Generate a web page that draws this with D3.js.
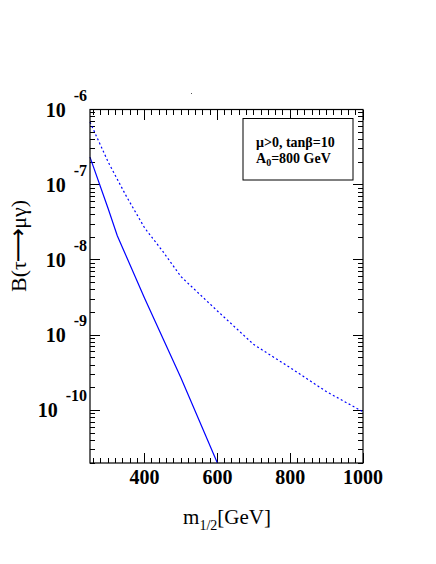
<!DOCTYPE html>
<html>
<head>
<meta charset="utf-8">
<script src="https://cdn.jsdelivr.net/npm/d3@7"></script>
<style>
  body { margin: 0; background: #fff; }
  svg { display: block; }
</style>
</head>
<body>
<svg></svg>
<script>
// chart values
var massSolid = [250, 300, 325, 400, 500, 600];
var brSolid = [2.33e-7, 4.8e-8, 2.1e-8, 3.1e-9, 2.7e-10, 2.0e-11];

var massDashed = [250, 300, 350, 400, 450, 500, 600, 700, 800, 900, 1000];
var brDashed = [6.8e-7, 2.0e-7, 7.0e-8, 2.67e-8, 1.3e-8, 6.0e-9, 2.1e-9, 7.5e-10, 3.7e-10, 1.77e-10, 9.6e-11];

var xTicks = [400, 600, 800, 1000];
var yExponents = [-6, -7, -8, -9, -10];
var legendLines = ["μ>0, tanβ=10", "A0=800 GeV"];

var svgWidth = 436, svgHeight = 564;
var plotLeft = 90, plotRight = 363, plotTop = 109.5, plotBottom = 463;

var svg = d3.select("svg")
    .attr("width", svgWidth)
    .attr("height", svgHeight);

var x = d3.scaleLinear().domain([250, 1000]).range([plotLeft, plotRight]);
var y = d3.scaleLog().domain([2e-11, 1e-6]).range([plotBottom, plotTop]);

var font = "'Liberation Serif', 'Times New Roman', serif";

// ticks on all four sides (pointing inward)
var minorX = d3.range(260, 1000, 20).filter(function(v){ return v % 200 != 0; });
var minorY = [];
for (var e = -11; e < -6; e++) {
    for (var k = 2; k <= 9; k++) {
        var v = k * Math.pow(10, e);
        if (v >= 2e-11 && v <= 1e-6) minorY.push(v);
    }
}

var ticks = svg.append("g").attr("stroke", "#000").attr("stroke-width", 1).attr("shape-rendering", "crispEdges");

minorX.forEach(function(v){
    ticks.append("line").attr("x1", x(v)).attr("x2", x(v)).attr("y1", plotBottom).attr("y2", plotBottom - 5);
    ticks.append("line").attr("x1", x(v)).attr("x2", x(v)).attr("y1", plotTop).attr("y2", plotTop + 5);
});
xTicks.forEach(function(v){
    ticks.append("line").attr("x1", x(v)).attr("x2", x(v)).attr("y1", plotBottom).attr("y2", plotBottom - 10);
    ticks.append("line").attr("x1", x(v)).attr("x2", x(v)).attr("y1", plotTop).attr("y2", plotTop + 10);
});
minorY.forEach(function(v){
    ticks.append("line").attr("x1", plotLeft).attr("x2", plotLeft + 5).attr("y1", y(v)).attr("y2", y(v));
    ticks.append("line").attr("x1", plotRight).attr("x2", plotRight - 5).attr("y1", y(v)).attr("y2", y(v));
});
yExponents.forEach(function(p){
    var v = Math.pow(10, p);
    ticks.append("line").attr("x1", plotLeft).attr("x2", plotLeft + 10).attr("y1", y(v)).attr("y2", y(v));
    ticks.append("line").attr("x1", plotRight).attr("x2", plotRight - 10).attr("y1", y(v)).attr("y2", y(v));
});

// curves
var line = d3.line()
    .x(function(d){ return x(d[0]); })
    .y(function(d){ return y(d[1]); });

svg.append("path")
    .datum(massSolid.map(function(m, i){ return [m, brSolid[i]]; }))
    .attr("d", line)
    .attr("fill", "none")
    .attr("stroke", "#0000ff")
    .attr("stroke-width", 1.2);

svg.append("path")
    .datum(massDashed.map(function(m, i){ return [m, brDashed[i]]; }))
    .attr("d", line)
    .attr("fill", "none")
    .attr("stroke", "#0000ff")
    .attr("stroke-width", 1.2)
    .attr("stroke-dasharray", "2,2.5");

// frame
svg.append("rect")
    .attr("x", plotLeft).attr("y", plotTop)
    .attr("width", plotRight - plotLeft).attr("height", plotBottom - plotTop)
    .attr("fill", "none").attr("stroke", "#000").attr("stroke-width", 1.2);

// x tick labels
svg.selectAll(".xl")
    .data(xTicks)
    .enter()
    .append("text")
    .attr("x", function(d){ return x(d); })
    .attr("y", 484)
    .attr("text-anchor", "middle")
    .attr("font-family", font)
    .attr("font-weight", "bold")
    .attr("font-size", 20)
    .text(function(d){ return d; });

// y tick labels, 10 with exponent
var yl = svg.selectAll(".yl")
    .data(yExponents)
    .enter()
    .append("text")
    .attr("x", 87)
    .attr("y", function(d){ return y(Math.pow(10, d)) + 7; })
    .attr("text-anchor", "end")
    .attr("font-family", font)
    .attr("font-weight", "bold")
    .attr("font-size", 20);
yl.append("tspan").text("10");
yl.append("tspan")
    .attr("dx", 8)
    .attr("dy", -16)
    .attr("font-size", 16)
    .text(function(d){ return "-" + Math.abs(d); });

// axis titles
var xt = svg.append("text")
    .attr("x", 227)
    .attr("y", 524)
    .attr("text-anchor", "middle")
    .attr("font-family", font)
    .attr("font-size", 21);
xt.append("tspan").text("m");
xt.append("tspan").attr("font-size", 14).attr("dy", 6).text("1/2");
xt.append("tspan").attr("dy", -6).text("[GeV]");

var yt = svg.append("text")
    .attr("transform", "translate(26,246) rotate(-90)")
    .attr("text-anchor", "middle")
    .attr("font-family", font)
    .attr("font-size", 22);
yt.append("tspan").text("B(τ");
yt.append("tspan").attr("font-family", "'DejaVu Sans'").attr("font-size", 24).attr("dx", -1).text("⟶");
yt.append("tspan").attr("dx", -1).text("μγ)");

// stray dot above the frame
svg.append("rect").attr("x", 191).attr("y", 93).attr("width", 1).attr("height", 1).attr("fill", "#555");

// legend box
svg.append("rect")
    .attr("x", 243).attr("y", 118.5)
    .attr("width", 110).attr("height", 61.5)
    .attr("fill", "#fff").attr("stroke", "#000").attr("stroke-width", 1);

svg.append("text")
    .attr("x", 256).attr("y", 147)
    .attr("font-family", font).attr("font-weight", "bold").attr("font-size", 14)
    .text(legendLines[0]);

var l2 = svg.append("text")
    .attr("x", 256).attr("y", 163)
    .attr("font-family", font).attr("font-weight", "bold").attr("font-size", 14);
l2.append("tspan").text(legendLines[1].slice(0, 1));
l2.append("tspan").attr("font-size", 10).attr("dy", 3).text(legendLines[1].slice(1, 2));
l2.append("tspan").attr("dy", -3).text(legendLines[1].slice(2));
</script>
</body>
</html>
